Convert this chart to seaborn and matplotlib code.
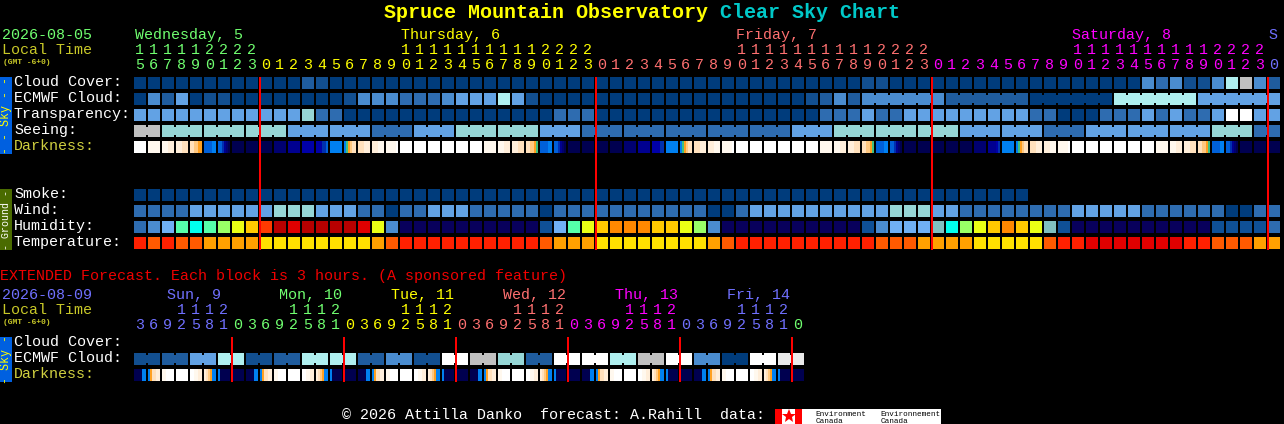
import numpy as np
import matplotlib
matplotlib.use("Agg")
import matplotlib.pyplot as plt
from matplotlib.colors import ListedColormap
import seaborn as sns

W, H = 1284, 424
MONO = "Liberation Mono"

# ---------- palettes ----------
SKY_KEYS = "0123456789W"
SKY_COLORS = ["#003c7c", "#124f90", "#1f5c9e", "#2e6cb0", "#4a8ccf", "#62a2e4",
              "#afefef", "#96d6d6", "#c0c0c0", "#eaeaea", "#ffffff"]
HUM_KEYS = "n0345gclyoOrRDT"
HUM_COLORS = ["#08005c", "#0f5096", "#2e6cb0", "#4a8ccf", "#70b0f4", "#55ffaa",
              "#00ffee", "#99ff66", "#eaff15", "#ffc800", "#ff8800", "#ff3a00",
              "#e00000", "#b80000", "#80c0c0"]
TEMP_KEYS = "RrOoy"
TEMP_COLORS = ["#e00000", "#ff2000", "#ff5a00", "#ffa000", "#ffe000"]
DARK_KEYS = "Wabcdefghijklm"
DARK_COLORS = ["#ffffff", "#fff8ee", "#ffeeda", "#ffe0bc", "#ffc880", "#ffa020",
               "#40c080", "#0080f0", "#0060d8", "#0030b0", "#0000a8", "#000090",
               "#000070", "#000050"]

# ---------- hourly rows (82 columns) ----------
CLOUD_COVER = ("000000000000" "21" "00000000000000000000000000000000000000"
               "11" "000000000000000000" "43411" "46842")
ECMWF = ("0425011000000001" "444" "333" "4555" "65" "1"
         "0000000000000000000" "1242"
         "444444" "222222" "000000" "666666" "555555")
TRANSPARENCY = ("555555555555" "7" "33" "000000000000000" "333"
                "0000000000000000" "333"
                "5" "33" "555555555" "33" "000" "333" "5353" "35" "WW" "55")
SEEING = ("88" "777" "777" "777" "555" "555" "333" "555" "777" "777" "555"
          "333" "333" "333" "333" "333" "555" "777" "777" "777" "555" "555"
          "333" "555" "555" "555" "777" "33")
SMOKE = "0000000000000000000000000000000000000000000000000000000000000000"
WIND = ("3333" "555555" "777" "555" "33" "0" "33" "555" "33333" "0"
        "33333333333" "00" "3" "5555555555" "777" "55" "33333333"
        "55555" "333333" "00" "33")
HUMIDITY = ("345gcglyor" "DRDDDD" "Ry4" "nnnnnnnnnn" "05gy" "oOOOooyl4"
            "nnnnnnnnnn" "04555" "TclyoOoyT0" "nnnnnnnnnn" "0000" "3")
TEMPERATURE = ("rOrOOoooo" "yyyyyyyy" "oOr" "rrrrrrrrr" "O" "ooo" "yyyyyyyy"
               "oOr" "rrrrrrrrr" "OOO" "oooo" "yyyyy" "Orr" "RRRRRRR" "rr"
               "OOO" "oo")

DARKNESS = [
    "WWWWWW", "aaaaaa", "aaabbb", "bbbccc", "ccddee", "hhhhgg", "hhiklm", "mmmmmm", "mmmmmm",
    "mmmmmm", "llllll", "kkkkkk", "jjjjjj", "jjjiih", "gggggg", "gfedcc", "cccbbb", "bbbaaa",
    "aaaaaW", "WWWWWW", "WWWWWW", "WWWWWW", "WWWWWW", "WWWWWW",
    "WWWWWW", "aaaaaa", "aaabbb", "bbbccc", "ccddef", "hhhhgg", "hhiklm", "mmmmmm", "mmmmmm",
    "mmmmmm", "mmmmmm", "llllll", "kkkkkk", "jjjjii", "gggggg", "gfedcc", "cccbbb", "bbbaaa",
    "aaaaaW", "WWWWWW", "WWWWWW", "WWWWWW", "WWWWWW", "WWWWWW",
    "WWWWWW", "aaaaaa", "aaabbb", "bbbccc", "ccddef", "hhhhgg", "hhiklm", "mmmmmm", "mmmmmm",
    "mmmmmm", "mmmmmm", "mmmmmm", "llllll", "kkkkji", "gggggg", "gfedcc", "cccbbb", "bbbaaa",
    "aaaaaW", "WWWWWW", "WWWWWW", "WWWWWW", "WWWWWW", "WWWWWW",
    "WWWWWW", "aaaaaa", "aaabbb", "bbbccc", "ccddef", "hhhhgg", "hhiklm", "mmmmmm", "mmmmmm",
    "mmmmmm",
]

SEEING_RUNS = [2] + [3] * 26 + [2]
ECMWF_RUNS = [1] * 52 + [6] * 5

HOURS = [15, 16, 17, 18, 19, 20, 21, 22, 23] + list(range(24)) * 3 + [0]
DAY_COLORS = ["#70ff70", "#ffff00", "#ff7070", "#ff00ff", "#7070ff"]
DAY_NAMES = ["Wednesday, 5", "Thursday, 6", "Friday, 7", "Saturday, 8", "S"]
DAY_NAME_X = [135, 401, 736, 1072, 1268]
MIDNIGHT_COLS = [9, 33, 57, 81]

# ---------- extended rows (48 columns) ----------
EXT_ECMWF_PAIRS = "125612662" "41W" "872" "WW68W40W9"
EXT_DARKNESS = [
    "mmmmgg", "geccbb", "aaWWWW", "WWWWWW", "WWaabb", "bcdegg", "gmmmmm",
    "mmmmmm", "mmmmgg", "geccbb", "aaWWWW", "WWWWWW", "WWaabb", "bcdegg", "gmmmmm",
    "mmmmmm", "mmmmgg", "geccbb", "aaWWWW", "WWWWWW", "WWaabb", "bcdegg", "gmmmmm",
    "mmmmmm", "mmmmgg", "geccbb", "aaWWWW", "WWWWWW", "WWaabb", "bcdegg", "gmmmmm",
    "mmmmmm", "mmmmgg", "geccbb", "aaWWWW", "WWWWWW", "WWaabb", "bcdegg", "gmmmmm",
    "mmmmmm", "mmmmgg", "geccbb", "aaWWWW", "WWWWWW", "WWaabb", "bcdegg", "gmmmmm",
    "mmmmmm",
]
EXT_HOURS = [3, 6, 9, 12, 15, 18, 21] + [0, 3, 6, 9, 12, 15, 18, 21] * 5 + [0]
EXT_DAY_COLORS = ["#7070ff", "#70ff70", "#ffff00", "#ff7070", "#ff00ff", "#7070ff", "#70ff70"]
EXT_DAY_NAMES = ["Sun, 9", "Mon, 10", "Tue, 11", "Wed, 12", "Thu, 13", "Fri, 14"]
EXT_DAY_NAME_X = [167, 279, 391, 503, 615, 727]
EXT_MIDNIGHT_COLS = [7, 15, 23, 31, 39, 47]

for series in (CLOUD_COVER, ECMWF, TRANSPARENCY, SEEING, WIND, HUMIDITY, TEMPERATURE, DARKNESS, HOURS):
    assert len(series) == 82, len(series)
assert len(EXT_ECMWF_PAIRS) == 24 and len(EXT_DARKNESS) == 48 and len(EXT_HOURS) == 48

# ---------- layout ----------
fig = plt.figure(figsize=(W / 100, H / 100), dpi=100, facecolor="black")
PITCH = 14
LEFT = 134
SUB = 7  # a column is six 2-px sub-cells and a 2-px gap


def px_axes(x0, y0, x1, y1, **kw):
    ax = fig.add_axes([x0 / W, 1 - y1 / H, (x1 - x0) / W, (y1 - y0) / H], **kw)
    ax.set_facecolor("black")
    return ax


def strip(top, values, colors):
    ncols = len(values)
    ax = px_axes(LEFT, top, LEFT + ncols * PITCH, top + 12)
    sns.heatmap(np.array([[x for v in values for x in v]], dtype=float), ax=ax,
                cmap=ListedColormap(colors), vmin=-0.5, vmax=len(colors) - 0.5,
                cbar=False, xticklabels=False, yticklabels=False)
    ax.set_facecolor("black")
    return ax


def block_row(top, row, keys, colors, runs=None, ncols=None):
    row = row.ljust(ncols or len(row))
    values = [[keys.index(c) if c in keys else np.nan] * (SUB - 1) + [np.nan] for c in row]
    ax = strip(top, values, colors)
    edge = 0
    for r in runs or []:
        for i in range(edge + 1, edge + r):
            ax.fill_between([SUB * i - 1, SUB * i], 2 / 12, 10 / 12,
                            color=colors[keys.index(row[i])], lw=0)
        edge += r
    ax.axis("off")


def dark_row(top, blocks):
    values = [[DARK_KEYS.index(c) for c in b] + [np.nan] for b in blocks]
    strip(top, values, DARK_COLORS).axis("off")


block_row(77, CLOUD_COVER, SKY_KEYS, SKY_COLORS)
block_row(93, ECMWF, SKY_KEYS, SKY_COLORS, runs=ECMWF_RUNS)
block_row(109, TRANSPARENCY, SKY_KEYS, SKY_COLORS)
block_row(125, SEEING, SKY_KEYS, SKY_COLORS, runs=SEEING_RUNS)
dark_row(141, DARKNESS)
block_row(189, SMOKE, SKY_KEYS, SKY_COLORS, ncols=82)
block_row(205, WIND, SKY_KEYS, SKY_COLORS)
block_row(221, HUMIDITY, HUM_KEYS, HUM_COLORS)
block_row(237, TEMPERATURE, TEMP_KEYS, TEMP_COLORS)

ext_row = "".join(c + c for c in EXT_ECMWF_PAIRS)
block_row(353, ext_row, SKY_KEYS, SKY_COLORS, runs=[2] * 24)
dark_row(369, EXT_DARKNESS)


def midnight_lines(y0, y1, ncols, cols):
    ax = px_axes(LEFT, y0, LEFT + ncols * PITCH, y1)
    ax.patch.set_alpha(0)
    ax.set_xlim(0, ncols)
    for c in cols:
        ax.axvspan(c - 1 / PITCH, c + 1 / PITCH, color="#ff0000", lw=0)
    ax.axis("off")


midnight_lines(77, 250, 82, MIDNIGHT_COLS)
midnight_lines(337, 382, 48, EXT_MIDNIGHT_COLS)

# text overlay in pixel coordinates
tx = fig.add_axes([0, 0, 1, 1], zorder=5)
tx.patch.set_alpha(0)
tx.set_xlim(0, W)
tx.set_ylim(H, 0)
tx.axis("off")

PX = 0.72  # points per pixel
RAISE = 1  # baseline correction, in pixels


def label(x, y, s, color="#ffffff", px=15, **kw):
    kw.setdefault("va", "baseline")
    kw.setdefault("ha", "left")
    return tx.text(x, y - RAISE, s, color=color, fontsize=px * PX, family=MONO, **kw)


# title
title = [("Spruce Mountain Observatory ", "#ffff00"), ("Clear Sky Chart", "#00c8c8")]
x = 384
for s, c in title:
    label(x, 19, s, c, px=20, fontweight="bold")
    x += len(s) * 12

OLIVE = "#c8c828"
label(2, 40, "2026-08-05", DAY_COLORS[0])
label(2, 55, "Local Time", OLIVE)
label(3, 65, "(GMT -6+0)", OLIVE, px=8, fontweight="bold")
for name, nx, c in zip(DAY_NAMES, DAY_NAME_X, DAY_COLORS):
    label(nx, 40, name, c)

day = 0
for i, h in enumerate(HOURS):
    if h == 0 and i > 0:
        day += 1
    cx = LEFT + PITCH * i + 5.5
    c = DAY_COLORS[day]
    if h >= 10:
        label(cx, 55, str(h // 10), c, ha="center")
    label(cx, 70, str(h % 10), c, ha="center")

for y, s, c in [(87, "Cloud Cover:", "#ffffff"), (103, "ECMWF Cloud:", "#ffffff"),
                (119, "Transparency:", "#ffffff"), (135, "Seeing:", "#ffffff"),
                (151, "Darkness:", "#d0d040"), (199, "Smoke:", "#ffffff"),
                (215, "Wind:", "#ffffff"), (231, "Humidity:", "#ffffff"),
                (247, "Temperature:", "#ffffff"), (347, "Cloud Cover:", "#ffffff"),
                (363, "ECMWF Cloud:", "#ffffff"), (379, "Darkness:", "#d0d040")]:
    label(14, y, s, c)

# side bars
for y0, y1, col, txt, tc, px in [(77, 154, "#0060e0", "- - Sky - -", "#ffff00", 11.6),
                                 (189, 250, "#4a6b00", "- Ground -", "#ffffff", 10),
                                 (337, 382, "#0060e0", "- Sky -", "#ffff00", 11.6)]:
    tx.fill_between([0, 12], y0, y1, color=col, lw=0)
    label(6, (y0 + y1) / 2 + RAISE, txt, tc, px=px, rotation=90, ha="center", va="center")

# extended block
label(0, 281, "EXTENDED Forecast. Each block is 3 hours. (A sponsored feature)", "#f00000")
label(2, 300, "2026-08-09", EXT_DAY_COLORS[0])
label(2, 315, "Local Time", OLIVE)
label(3, 325, "(GMT -6+0)", OLIVE, px=8, fontweight="bold")
for name, nx, c in zip(EXT_DAY_NAMES, EXT_DAY_NAME_X, EXT_DAY_COLORS):
    label(nx, 300, name, c)
day = 0
for i, h in enumerate(EXT_HOURS):
    if h == 0 and i > 0:
        day += 1
    cx = LEFT + PITCH * i + 5.5
    c = EXT_DAY_COLORS[day]
    if h >= 10:
        label(cx, 315, str(h // 10), c, ha="center")
    label(cx, 330, str(h % 10), c, ha="center")

# footer
label(342, 420, "\u00a9 2026 Attilla Danko  forecast: A.Rahill  data:", "#ffffff")
tx.fill_between([775, 941], 409, 424, color="#ffffff", lw=0)
tx.fill_between([775, 782], 409, 424, color="#ff0000", lw=0)
tx.fill_between([795, 802], 409, 424, color="#ff0000", lw=0)
tx.plot([788.5], [416], marker="*", ms=10, color="#ff0000", mew=0)
for x0, s in [(815.5, "Environment"), (880.5, "Environnement")]:
    label(x0, 416 + RAISE, s, "#000000", px=7.7)
    label(x0, 423 + RAISE, "Canada", "#000000", px=7.7)

fig.savefig("out.png", dpi=100, facecolor="black")
